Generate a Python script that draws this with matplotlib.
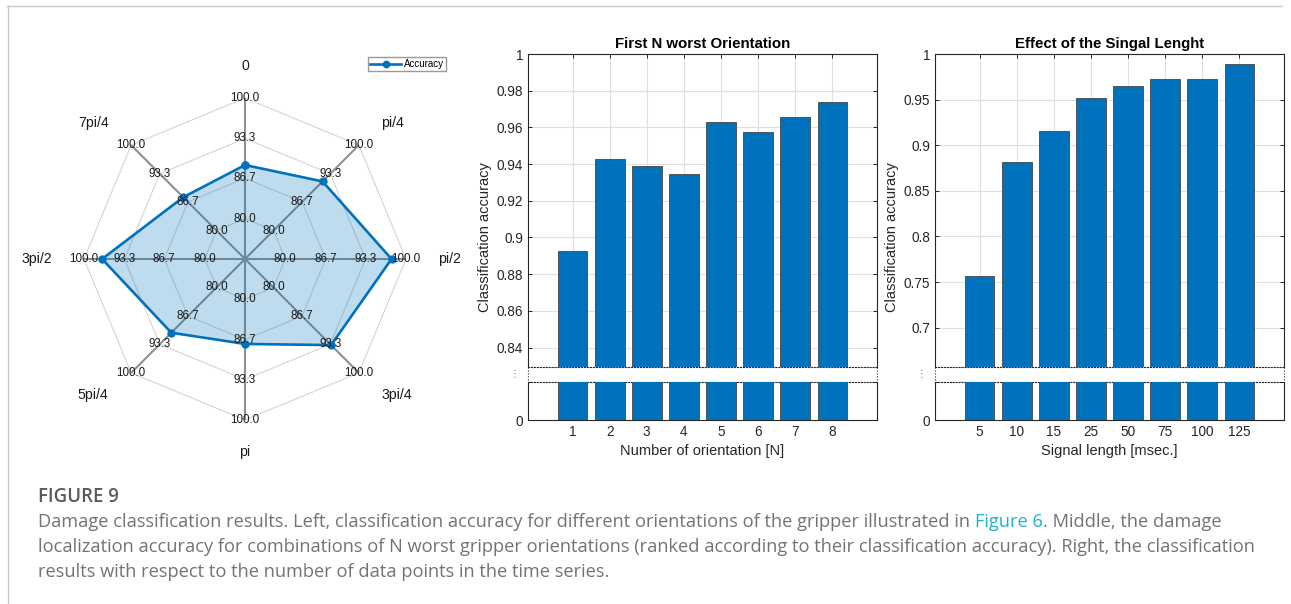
import numpy as np
import matplotlib
matplotlib.use("Agg")
import matplotlib.pyplot as plt
from matplotlib.lines import Line2D
from matplotlib.ticker import FormatStrFormatter

plt.rcParams['font.family'] = ['Liberation Sans', 'DejaVu Sans']

# left: accuracy per gripper orientation (spider plot)
orient_labels = ["0", "pi/4", "pi/2", "3pi/4", "pi", "5pi/4", "3pi/2", "7pi/4"]
orient_acc = [88.9, 91.5, 97.6, 93.5, 87.4, 90.6, 97.0, 87.8]
ring_vals = [80.0, 86.7, 93.3, 100.0]
r_center = 73.33
label_r = 105.3

# middle: first N worst orientations
n_labels = ["1", "2", "3", "4", "5", "6", "7", "8"]
n_acc = [0.8925, 0.9427, 0.9387, 0.9344, 0.9627, 0.9573, 0.9655, 0.9740]
n_yticks = [0.84, 0.86, 0.88, 0.90, 0.92, 0.94, 0.96, 0.98, 1.0]

# right: signal length
len_labels = ["5", "10", "15", "25", "50", "75", "100", "125"]
len_acc = [0.7568, 0.8815, 0.9161, 0.9515, 0.9647, 0.9723, 0.9723, 0.9887]
len_yticks = [0.70, 0.75, 0.80, 0.85, 0.90, 0.95, 1.0]

W, H = 1291, 604
BLUE = '#0072BD'

fig = plt.figure(figsize=(W / 100, H / 100), dpi=100)


def box(l, t, r, b):
    return [l / W, 1 - b / H, (r - l) / W, (b - t) / H]


#%% spider plot
ax = fig.add_axes(box(84, 98, 406, 420), projection='polar')
ax.set_theta_zero_location('N')
ax.set_theta_direction(-1)
ax.set_ylim(r_center, 100)
ax.axis('off')

theta = np.arange(len(orient_labels)) * 2 * np.pi / len(orient_labels)
closed = np.r_[theta, theta[0]]
for v in ring_vals:
    ax.plot(closed, [v] * len(closed), color='#cfcfcf', lw=0.7, zorder=1)
for t in theta:
    ax.plot([t, t], [r_center, 100], color='#8f8f8f', lw=1.5, zorder=2)

acc = np.r_[orient_acc, orient_acc[0]]
ax.fill(closed, acc, color=BLUE, alpha=0.25, lw=0, zorder=3)
ax.plot(closed, acc, color=BLUE, lw=1.9, marker='o', ms=5, zorder=4,
        label='Accuracy')

for t in theta:
    for v in ring_vals:
        ax.text(t, v, f"{v:.1f}", ha='center', va='center', fontsize=8.4,
                color='#1a1a1a', zorder=5)
for t, lab in zip(theta, orient_labels):
    s = np.sin(t)
    ha = 'left' if s > 0.01 else ('right' if s < -0.01 else 'center')
    ax.text(t, label_r, lab, ha=ha, va='center', fontsize=10.2, color='#1a1a1a')

ax.legend(loc='upper left', bbox_to_anchor=(368 / W, 1 - 57 / H),
          bbox_transform=fig.transFigure, fontsize=7, fancybox=False,
          edgecolor='#9a9a9a', framealpha=1, handlelength=3.2, borderpad=0.2,
          borderaxespad=0, handletextpad=0.3, markerscale=0.9)


#%% bar charts with broken y axis
def bar_panel(left, right, labels, values, lo, yticks, title, xlabel):
    ax_u = fig.add_axes(box(left, 54, right, 367))
    ax_l = fig.add_axes(box(left, 382, right, 420))
    x = np.arange(1, len(labels) + 1)
    for a in (ax_u, ax_l):
        a.bar(x, values, width=0.8, color=BLUE, edgecolor='#454545', lw=0.6,
              zorder=3)
        a.set_xlim(-0.2, len(labels) + 1.2)
        a.set_xticks(x)
        a.set_axisbelow(True)
        a.tick_params(direction='in', length=3, width=0.7, top=True,
                      right=True, labelsize=9.8, colors='#262626')
        for s in a.spines.values():
            s.set_linewidth(0.8)
            s.set_color('#262626')
    ax_u.set_ylim(lo, 1)
    ax_u.set_yticks(yticks)
    ax_u.yaxis.set_major_formatter(FormatStrFormatter('%g'))
    ax_u.tick_params(bottom=False, labelbottom=False)
    ax_u.grid(True, color='#dfdfdf', lw=0.8)
    ax_u.spines['bottom'].set_linestyle(':')
    ax_u.set_title(title, fontsize=10.8, fontweight='bold', pad=4)
    ax_u.set_ylabel('Classification accuracy', fontsize=10.5, color='#262626')
    ax_u.yaxis.set_label_coords(-36 / (right - left), (367 - 237) / (367 - 54))

    ax_l.set_ylim(0, 0.1)
    ax_l.set_yticks([0, 0.1])
    ax_l.set_yticklabels(['0', ''])
    ax_l.tick_params(top=False)
    ax_l.set_xticklabels(labels)
    ax_l.grid(True, axis='x', color='#dfdfdf', lw=0.8)
    ax_l.spines['top'].set_linestyle(':')
    ax_l.set_xlabel(xlabel, fontsize=10.5, color='#262626', labelpad=4)

    pu, pl = ax_u.get_position(), ax_l.get_position()
    for xx in (pu.x0, pu.x1):
        fig.add_artist(Line2D([xx, xx], [pu.y0, pl.y1], transform=fig.transFigure,
                              ls=':', lw=0.8, color='#262626'))
    fig.text(pu.x0 - 13 / W, (pu.y0 + pl.y1) / 2, '\u22ee', fontsize=7,
             color='#777777', ha='center', va='center', family='DejaVu Sans')


bar_panel(528, 877, n_labels, n_acc, 0.8294, n_yticks,
          'First N worst Orientation', 'Number of orientation [N]')
bar_panel(935, 1284, len_labels, len_acc, 0.6568, len_yticks,
          'Effect of the Singal Lenght', 'Signal length [msec.]')

#%% page frame + caption
fig.add_artist(Line2D([7 / W, 1282 / W], [1 - 5.5 / H] * 2, transform=fig.transFigure,
                      color='#c8c8c8', lw=1.0))
fig.add_artist(Line2D([7.5 / W] * 2, [0, 1 - 5.5 / H], transform=fig.transFigure,
                      color='#c8c8c8', lw=1.0))

cap_font = 'Open Sans'
cap_color = '#737373'
line1a = ("Damage classification results. Left, classification accuracy for different "
          "orientations of the gripper illustrated in ")
line1b = "Figure 6"
line1c = ". Middle, the damage"
line2 = ("localization accuracy for combinations of N worst gripper orientations "
         "(ranked according to their classification accuracy). Right, the classification")
line3 = "results with respect to the number of data points in the time series."

renderer = fig.canvas.get_renderer()
probe = fig.text(0, 0, line2, fontsize=11, family=cap_font)
w = probe.get_window_extent(renderer).width
probe.remove()
cap_size = 11 * (1222 / w)

fig.text(38 / W, 1 - 497 / H, "FIGURE 9", fontsize=cap_size * 1.02, family=cap_font,
         fontweight='semibold', color='#5a5a5a', va='center')
t1 = fig.text(38 / W, 1 - 522 / H, line1a, fontsize=cap_size, family=cap_font,
              color=cap_color, va='center')
x_next = t1.get_window_extent(renderer).x1
t2 = fig.text(x_next / W, 1 - 522 / H, line1b, fontsize=cap_size, family=cap_font,
              color='#1fb3c8', va='center')
x_next = t2.get_window_extent(renderer).x1
fig.text(x_next / W, 1 - 522 / H, line1c, fontsize=cap_size, family=cap_font,
         color=cap_color, va='center')
fig.text(38 / W, 1 - 547 / H, line2, fontsize=cap_size, family=cap_font,
         color=cap_color, va='center')
fig.text(38 / W, 1 - 572 / H, line3, fontsize=cap_size, family=cap_font,
         color=cap_color, va='center')

fig.savefig('out.png', dpi=100)
